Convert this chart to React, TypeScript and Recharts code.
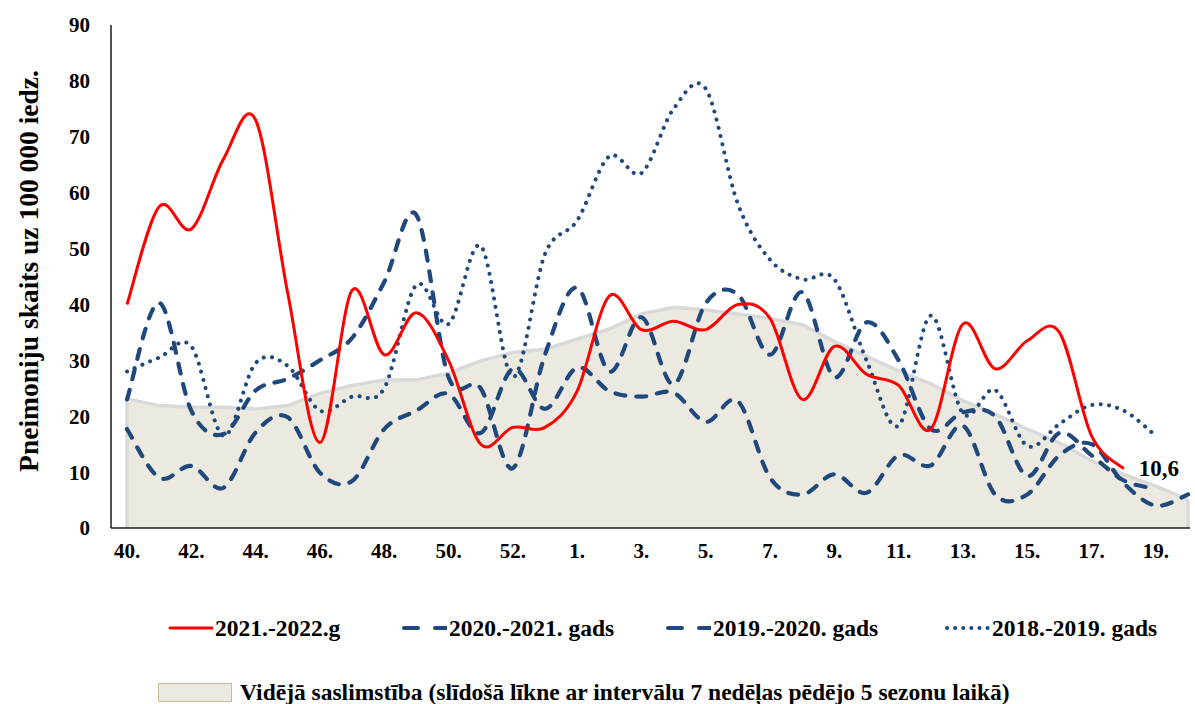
import React from "react";
import {
  ComposedChart,
  Area,
  Line,
  XAxis,
  YAxis,
  ReferenceLine,
  LabelList,
} from "recharts";

const weeks = [
  "40.", "41.", "42.", "43.", "44.", "45.", "46.", "47.", "48.", "49.",
  "50.", "51.", "52.", "53.", "1.", "2.", "3.", "4.", "5.", "6.", "7.",
  "8.", "9.", "10.", "11.", "12.", "13.", "14.", "15.", "16.", "17.",
  "18.", "19.", "20.",
];

// 2021.-2022. season (up to week 18)
const season2122 = [
  40, 57.5, 53.5, 66, 73, 42, 15.3, 42.5, 31, 38.5, 30, 15, 18, 18, 24.5,
  41.5, 35.5, 37, 35.5, 40, 37.5, 23, 32.5, 27.5, 25.5, 17.7, 36.5, 28.5,
  33.5, 35, 16.5, 10.6,
];

const season2021 = [
  23, 40.3, 21, 16.8, 24.6, 26.7, 30, 34, 44, 56, 27, 25, 10.7, 31, 43, 28,
  37.7, 25.7, 40.2, 41.8, 31, 42.2, 27, 36.8, 30, 17.7, 20.7, 20, 9.3, 17,
  13, 8.5, 7,
];

const season1920 = [
  17.7, 9, 11.1, 7.2, 17.1, 19.8, 9.9, 8.4, 17.7, 21, 24, 17, 28.5, 21.3,
  28.7, 24.5, 23.5, 24.2, 19, 22.7, 9, 6, 9.6, 6.3, 13, 11.2, 18.3, 6, 6, 13,
  15, 8, 4, 6,
];

const season1819 = [
  28, 30.5, 32.5, 16.5, 29.5, 29, 21, 23.5, 25, 43.5, 36.5, 50.5, 27, 49, 55,
  66.5, 63.5, 75, 78.6, 58, 48, 44.5, 44.5, 30, 18.3, 38, 20.5, 24.7, 14.7,
  18.6, 22, 21, 16.5,
];

// moving average over the last 5 seasons
const average = [
  23.1, 21.9, 21.6, 21.6, 21.3, 21.9, 24.1, 25.5, 26.5, 26.5, 27.7, 29.9,
  31.4, 32, 33.8, 35.6, 38.3, 39.5, 39, 38.3, 37.5, 36.4, 33.4, 30.7, 28.1,
  25.8, 22.8, 20.4, 17.7, 15.3, 12, 9.6, 7.5, 5.1,
];

const yTicks = [0, 10, 20, 30, 40, 50, 60, 70, 80, 90];

const data = weeks.map((week, i) => ({
  week,
  s2122: season2122[i],
  s2021: season2021[i],
  s1920: season1920[i],
  s1819: season1819[i],
  avg: average[i],
}));

const FONT = '"Times New Roman", "Liberation Serif", serif';
const RED = "#ff0000";
const BLUE = "#1f497d";
const AREA_FILL = "#eceae0";
const AREA_LINE = "#d9d9d9";

// Excel-like smoothed line (uniform Catmull-Rom through every point)
function smoothCurve(context: any) {
  let xs: number[] = [];
  let ys: number[] = [];
  return {
    areaStart() {},
    areaEnd() {},
    lineStart() {
      xs = [];
      ys = [];
    },
    lineEnd() {
      const n = xs.length;
      if (!n) return;
      context.moveTo(xs[0], ys[0]);
      for (let i = 0; i < n - 1; i++) {
        const a = Math.max(i - 1, 0);
        const d = Math.min(i + 2, n - 1);
        context.bezierCurveTo(
          xs[i] + (xs[i + 1] - xs[a]) / 6,
          ys[i] + (ys[i + 1] - ys[a]) / 6,
          xs[i + 1] - (xs[d] - xs[i]) / 6,
          ys[i + 1] - (ys[d] - ys[i]) / 6,
          xs[i + 1],
          ys[i + 1]
        );
      }
    },
    point(x: number, y: number) {
      xs.push(+x);
      ys.push(+y);
    },
  };
}

const tickStyle = { fill: "#000", fontSize: 21, fontWeight: 700, fontFamily: FONT };

const legendItems = [
  { label: "2021.-2022.g", left: 168, stroke: RED, width: 3, dash: undefined },
  { label: "2020.-2021. gads", left: 402, stroke: BLUE, width: 4, dash: "14 17" },
  { label: "2019.-2020. gads", left: 666, stroke: BLUE, width: 4, dash: "14 17" },
  { label: "2018.-2019. gads", left: 945, stroke: BLUE, width: 4, dash: "0.1 8" },
];

function LastValueLabel(props: any) {
  const { x, y, value, index } = props;
  if (index !== season2122.length - 1) return null;
  return (
    <text
      x={x + 15}
      y={y + 2}
      dominantBaseline="middle"
      fontFamily={FONT}
      fontWeight={700}
      fontSize={23}
      fill="#000"
    >
      {String(value).replace(".", ",")}
    </text>
  );
}

export default function App() {
  return (
    <div
      style={{
        position: "absolute",
        left: 0,
        top: 0,
        width: 1195,
        height: 704,
        background: "#fff",
        fontFamily: FONT,
      }}
    >
      <ComposedChart
        width={1195}
        height={575}
        data={data}
        margin={{ top: 25, right: 5, bottom: 7, left: 0 }}
      >
        <XAxis
          dataKey="week"
          scale="point"
          padding={{ left: 16, right: 2 }}
          interval={1}
          tickLine={false}
          tickSize={0}
          tickMargin={15}
          axisLine={{ stroke: "#1a1a1a", strokeWidth: 1.5 }}
          tick={tickStyle}
          height={40}
        />
        <YAxis
          domain={[0, 90]}
          ticks={yTicks}
          width={111}
          tickLine={false}
          tickSize={0}
          tickMargin={21}
          axisLine={{ stroke: "#1a1a1a", strokeWidth: 1.5 }}
          tick={tickStyle}
        />
        <Area
          dataKey="avg"
          type="linear"
          fill={AREA_FILL}
          fillOpacity={1}
          stroke={AREA_LINE}
          strokeWidth={3.5}
          isAnimationActive={false}
        />
        <ReferenceLine
          segment={[
            { x: weeks[0], y: 0 },
            { x: weeks[0], y: average[0] },
          ]}
          stroke={AREA_LINE}
          strokeWidth={3.5}
        />
        <ReferenceLine
          segment={[
            { x: weeks[weeks.length - 1], y: 0 },
            { x: weeks[weeks.length - 1], y: average[average.length - 1] },
          ]}
          stroke={AREA_LINE}
          strokeWidth={3.5}
        />
        <Line
          dataKey="s1819"
          type={smoothCurve as any}
          stroke={BLUE}
          strokeWidth={4}
          strokeDasharray="0.1 8.3"
          strokeLinecap="round"
          dot={false}
          activeDot={false}
          isAnimationActive={false}
        />
        <Line
          dataKey="s1920"
          type={smoothCurve as any}
          stroke={BLUE}
          strokeWidth={4.2}
          strokeDasharray="10 11"
          strokeLinecap="round"
          dot={false}
          activeDot={false}
          isAnimationActive={false}
        />
        <Line
          dataKey="s2021"
          type={smoothCurve as any}
          stroke={BLUE}
          strokeWidth={4.2}
          strokeDasharray="10 11"
          strokeLinecap="round"
          dot={false}
          activeDot={false}
          isAnimationActive={false}
        />
        <Line
          dataKey="s2122"
          type={smoothCurve as any}
          stroke={RED}
          strokeWidth={3}
          dot={false}
          activeDot={false}
          isAnimationActive={false}
        >
          <LabelList dataKey="s2122" content={LastValueLabel} />
        </Line>
      </ComposedChart>

      <svg
        width={60}
        height={575}
        style={{ position: "absolute", left: 0, top: 0 }}
      >
        <text
          transform="translate(28,271) rotate(-90)"
          textAnchor="middle"
          dominantBaseline="central"
          fontFamily={FONT}
          fontWeight={700}
          fontSize={27.5}
          fill="#000"
        >
          Pneimoniju skaits uz 100 000 iedz.
        </text>
      </svg>

      {legendItems.map((item) => (
        <div
          key={item.label}
          style={{
            position: "absolute",
            left: item.left,
            top: 615,
            height: 26,
            display: "flex",
            alignItems: "center",
            fontSize: 23.5,
            fontWeight: 700,
            color: "#000",
            whiteSpace: "nowrap",
          }}
        >
          <svg width={45} height={10} style={{ marginRight: 2 }}>
            <line
              x1={2}
              y1={5}
              x2={45}
              y2={5}
              stroke={item.stroke}
              strokeWidth={item.width}
              strokeDasharray={item.dash}
              strokeLinecap="round"
            />
          </svg>
          {item.label}
        </div>
      ))}

      <div
        style={{
          position: "absolute",
          left: 158,
          top: 680,
          height: 24,
          display: "flex",
          alignItems: "center",
          fontSize: 23.5,
          fontWeight: 700,
          color: "#000",
          whiteSpace: "nowrap",
        }}
      >
        <div
          style={{
            width: 72,
            height: 17,
            background: AREA_FILL,
            border: "1.5px solid #c9bd94",
            marginRight: 8,
          }}
        />
        Vidējā saslimstība (slīdošā līkne ar intervālu 7 nedēļas pēdējo 5 sezonu laikā)
      </div>
    </div>
  );
}
